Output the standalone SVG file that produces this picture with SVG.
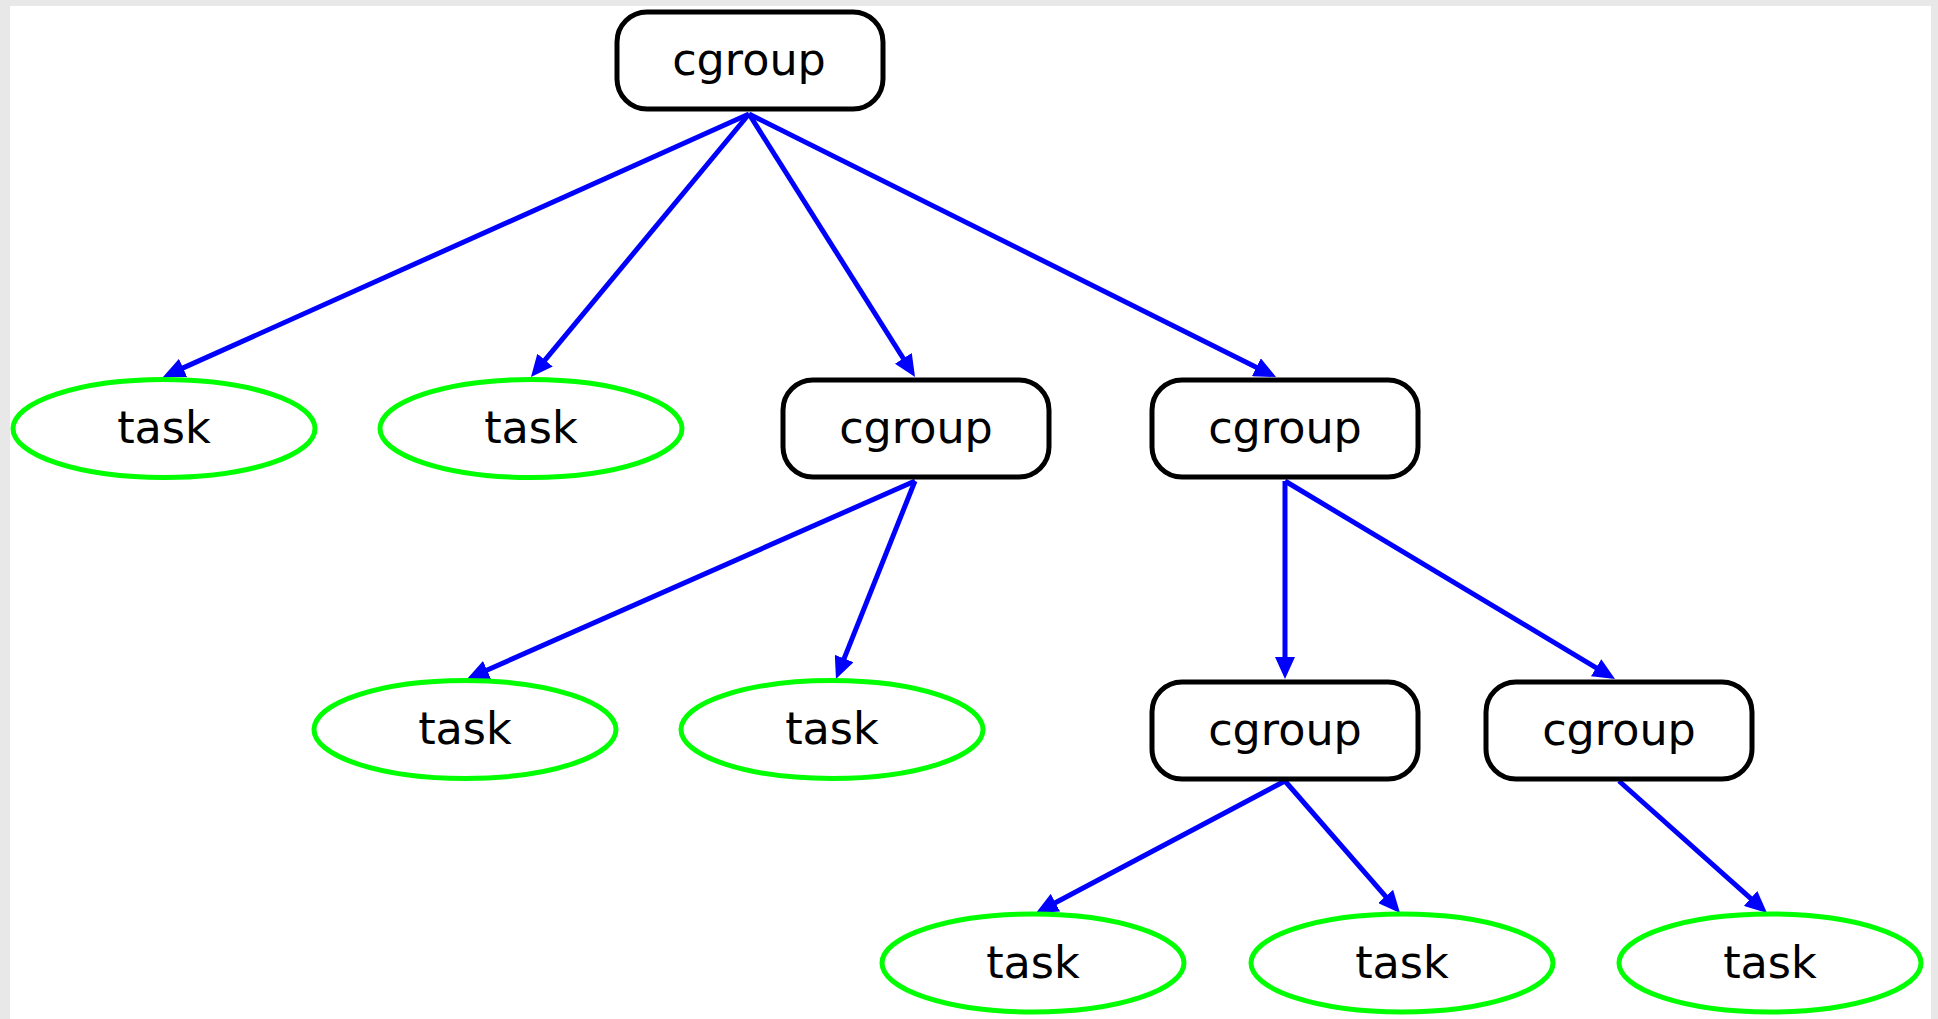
<svg xmlns="http://www.w3.org/2000/svg" width="1938" height="1019" viewBox="0 0 1938 1019">
<defs>
<style>
.cg{fill:#fff;stroke:#000;stroke-width:5}
.tk{fill:#fff;stroke:#00ff00;stroke-width:5}
.lb{font-family:"DejaVu Sans",sans-serif;font-size:44.5px;fill:#000;text-anchor:middle}
.ed{stroke:#0000ff;stroke-width:5;fill:none}
</style>
<marker id="ah" markerUnits="userSpaceOnUse" markerWidth="22" markerHeight="20" refX="6" refY="10" orient="auto">
<path d="M0,0 L22,10 L0,20 z" fill="#0000ff"/>
</marker>
</defs>
<rect x="0" y="0" width="1938" height="1019" fill="#e8e8e8"/>
<rect x="10" y="6" width="1921" height="1013" fill="#fff"/>
<g id="connectors">
<line class="ed" x1="749" y1="114" x2="177.6" y2="370.4" marker-end="url(#ah)"/>
<line class="ed" x1="749" y1="114" x2="541.2" y2="364.7" marker-end="url(#ah)"/>
<line class="ed" x1="749" y1="114" x2="906.5" y2="363.5" marker-end="url(#ah)"/>
<line class="ed" x1="749" y1="114" x2="1261.7" y2="369.9" marker-end="url(#ah)"/>
<line class="ed" x1="915" y1="481" x2="481.6" y2="672.5" marker-end="url(#ah)"/>
<line class="ed" x1="915" y1="481" x2="841.9" y2="664.1" marker-end="url(#ah)"/>
<line class="ed" x1="1285" y1="481" x2="1285" y2="663" marker-end="url(#ah)"/>
<line class="ed" x1="1285" y1="481" x2="1601.3" y2="670.8" marker-end="url(#ah)"/>
<line class="ed" x1="1285" y1="781" x2="1050.1" y2="905.5" marker-end="url(#ah)"/>
<line class="ed" x1="1285" y1="781" x2="1389.5" y2="900.9" marker-end="url(#ah)"/>
<line class="ed" x1="1619" y1="781" x2="1755.1" y2="902.4" marker-end="url(#ah)"/>
</g>
<g id="cgroup-root"><rect class="cg" x="617" y="12" width="266" height="97" rx="30"/><text class="lb" x="749" y="75">cgroup</text></g>
<g id="task-1"><ellipse class="tk" cx="164" cy="428.5" rx="151" ry="49"/><text class="lb" x="164" y="443">task</text></g>
<g id="task-2"><ellipse class="tk" cx="531" cy="428.5" rx="151" ry="49"/><text class="lb" x="531" y="443">task</text></g>
<g id="cgroup-a"><rect class="cg" x="783" y="380" width="266" height="97" rx="30"/><text class="lb" x="916" y="443">cgroup</text></g>
<g id="cgroup-b"><rect class="cg" x="1152" y="380" width="266" height="97" rx="30"/><text class="lb" x="1285" y="443">cgroup</text></g>
<g id="task-3"><ellipse class="tk" cx="465" cy="729.5" rx="151" ry="49"/><text class="lb" x="465" y="744">task</text></g>
<g id="task-4"><ellipse class="tk" cx="832" cy="729.5" rx="151" ry="49"/><text class="lb" x="832" y="744">task</text></g>
<g id="cgroup-c"><rect class="cg" x="1152" y="682" width="266" height="97" rx="30"/><text class="lb" x="1285" y="745">cgroup</text></g>
<g id="cgroup-d"><rect class="cg" x="1486" y="682" width="266" height="97" rx="30"/><text class="lb" x="1619" y="745">cgroup</text></g>
<g id="task-5"><ellipse class="tk" cx="1033" cy="963" rx="151" ry="49"/><text class="lb" x="1033" y="978">task</text></g>
<g id="task-6"><ellipse class="tk" cx="1402" cy="963" rx="151" ry="49"/><text class="lb" x="1402" y="978">task</text></g>
<g id="task-7"><ellipse class="tk" cx="1770" cy="963" rx="151" ry="49"/><text class="lb" x="1770" y="978">task</text></g>
</svg>
